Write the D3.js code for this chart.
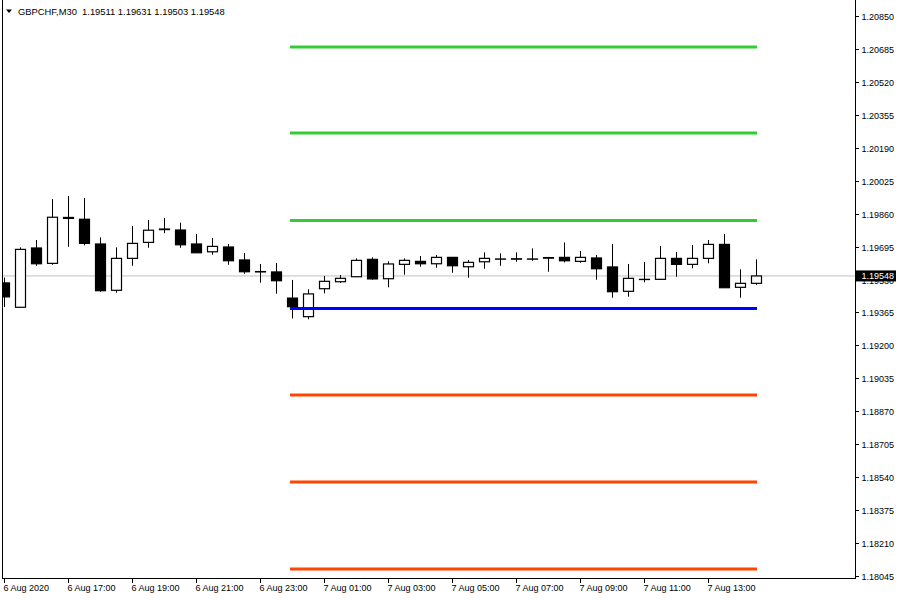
<!DOCTYPE html>
<html>
<head>
<meta charset="utf-8">
<script src="https://cdn.jsdelivr.net/npm/d3@7/dist/d3.min.js"></script>
<style>
  html, body { margin: 0; padding: 0; background: #fff; }
  svg { display: block; }
  text { font-family: "Liberation Sans", Arial, sans-serif; font-size: 9px; fill: #000; }
</style>
</head>
<body>
<svg id="chart" width="900" height="600"></svg>
<script>
// ---- Data (GBPCHF M30) ----
const times = [
  "6 Aug 15:00","6 Aug 15:30","6 Aug 16:00","6 Aug 16:30","6 Aug 17:00","6 Aug 17:30",
  "6 Aug 18:00","6 Aug 18:30","6 Aug 19:00","6 Aug 19:30","6 Aug 20:00","6 Aug 20:30",
  "6 Aug 21:00","6 Aug 21:30","6 Aug 22:00","6 Aug 22:30","6 Aug 23:00","6 Aug 23:30",
  "7 Aug 00:00","7 Aug 00:30","7 Aug 01:00","7 Aug 01:30","7 Aug 02:00","7 Aug 02:30",
  "7 Aug 03:00","7 Aug 03:30","7 Aug 04:00","7 Aug 04:30","7 Aug 05:00","7 Aug 05:30",
  "7 Aug 06:00","7 Aug 06:30","7 Aug 07:00","7 Aug 07:30","7 Aug 08:00","7 Aug 08:30",
  "7 Aug 09:00","7 Aug 09:30","7 Aug 10:00","7 Aug 10:30","7 Aug 11:00","7 Aug 11:30",
  "7 Aug 12:00","7 Aug 12:30","7 Aug 13:00","7 Aug 13:30","7 Aug 14:00","7 Aug 14:30"
];
const opens = [1.19513,1.19391,1.19688,1.19611,1.19841,1.19832,1.19708,1.19476,1.19636,1.19716,1.19783,1.19778,
  1.19708,1.19669,1.19693,1.19628,1.19570,1.19568,1.19437,1.19344,1.19484,1.19519,1.19544,1.19631,
  1.19534,1.19606,1.19621,1.19609,1.19641,1.19594,1.19619,1.19633,1.19634,1.19633,1.19640,1.19641,
  1.19621,1.19638,1.19593,1.19471,1.19531,1.19531,1.19636,1.19606,1.19636,1.19706,1.19491,1.19511];
const highs = [1.19540,1.19691,1.19728,1.19933,1.19948,1.19938,1.19741,1.19691,1.19798,1.19828,1.19838,1.19815,
  1.19758,1.19738,1.19708,1.19663,1.19608,1.19613,1.19528,1.19481,1.19548,1.19553,1.19636,1.19641,
  1.19621,1.19636,1.19648,1.19653,1.19643,1.19628,1.19666,1.19661,1.19666,1.19686,1.19643,1.19716,
  1.19673,1.19653,1.19708,1.19608,1.19618,1.19698,1.19668,1.19703,1.19728,1.19758,1.19581,1.19631];
const lows = [1.19392,1.19390,1.19599,1.19604,1.19694,1.19701,1.19469,1.19464,1.19599,1.19689,1.19762,1.19689,
  1.19663,1.19654,1.19604,1.19559,1.19514,1.19459,1.19335,1.19331,1.19461,1.19514,1.19543,1.19529,
  1.19491,1.19554,1.19594,1.19589,1.19564,1.19539,1.19584,1.19599,1.19619,1.19624,1.19569,1.19616,
  1.19614,1.19529,1.19439,1.19444,1.19516,1.19530,1.19544,1.19586,1.19611,1.19489,1.19439,1.19503];
const closes = [1.19443,1.19681,1.19609,1.19842,1.19836,1.19711,1.19474,1.19636,1.19711,1.19777,1.19780,1.19704,
  1.19664,1.19696,1.19624,1.19569,1.19568,1.19524,1.19394,1.19458,1.19521,1.19536,1.19626,1.19533,
  1.19608,1.19626,1.19609,1.19641,1.19599,1.19616,1.19636,1.19632,1.19632,1.19632,1.19637,1.19624,
  1.19641,1.19584,1.19469,1.19536,1.19530,1.19636,1.19606,1.19636,1.19706,1.19489,1.19511,1.19548];

// Daily pivot levels (start at 7 Aug 00:00)
const pivotNames  = ["R3","R2","R1","P","S1","S2","S3"];
const pivotValues = [1.20695,1.20264,1.19826,1.19385,1.18952,1.18516,1.18080];
const pivotColors = ["#32cd32","#32cd32","#32cd32","#0000ff","#ff4500","#ff4500","#ff4500"];
const pivotStart = "7 Aug 00:00";

const yTickLabels = ["1.20850","1.20685","1.20520","1.20355","1.20190","1.20025","1.19860","1.19695",
  "1.19530","1.19365","1.19200","1.19035","1.18870","1.18705","1.18540","1.18375","1.18210","1.18045"];
const xTickTimes  = ["6 Aug 15:00","6 Aug 17:00","6 Aug 19:00","6 Aug 21:00","6 Aug 23:00","7 Aug 01:00",
  "7 Aug 03:00","7 Aug 05:00","7 Aug 07:00","7 Aug 09:00","7 Aug 11:00","7 Aug 13:00"];
const xTickLabels = ["6 Aug 2020","6 Aug 17:00","6 Aug 19:00","6 Aug 21:00","6 Aug 23:00","7 Aug 01:00",
  "7 Aug 03:00","7 Aug 05:00","7 Aug 07:00","7 Aug 09:00","7 Aug 11:00","7 Aug 13:00"];

const symbolTitle = "GBPCHF,M30";

(function () {
  const lastPrice = closes[closes.length - 1];
  const L = 2, R = 855, T = 0, B = 578;
  const svg = d3.select("#chart");

  const x = d3.scalePoint().domain(times).range([3.5, 755.5]);
  const y = d3.scaleLinear().domain([1.18045, 1.20850]).range([576, 16]);

  svg.append("defs").append("clipPath").attr("id", "clip")
    .append("rect").attr("x", L + 0.5).attr("y", T).attr("width", R - L).attr("height", B - T);

  const plot = svg.append("g").attr("clip-path", "url(#clip)");

  // current price line
  plot.append("line")
    .attr("x1", L).attr("x2", R)
    .attr("y1", y(lastPrice)).attr("y2", y(lastPrice))
    .attr("stroke", "#c0c0c0").attr("stroke-width", 1);

  // candles
  const candles = times.map((t, i) => ({ t, o: opens[i], h: highs[i], l: lows[i], c: closes[i] }));
  const bw = 10;
  const g = plot.append("g").attr("class", "candles");
  g.selectAll("line.wick").data(candles).join("line")
    .attr("class", "wick")
    .attr("x1", d => Math.round(x(d.t)) + 0.5).attr("x2", d => Math.round(x(d.t)) + 0.5)
    .attr("y1", d => y(d.h)).attr("y2", d => y(d.l))
    .attr("stroke", "#000").attr("stroke-width", 1);
  g.selectAll("rect.body").data(candles).join("rect")
    .attr("class", "body")
    .attr("x", d => Math.round(x(d.t)) + 0.5 - bw / 2)
    .attr("width", bw)
    .attr("y", d => y(Math.max(d.o, d.c)))
    .attr("height", d => Math.max(0.01, Math.abs(y(d.o) - y(d.c))))
    .attr("fill", d => d.c > d.o ? "#fff" : "#000")
    .attr("stroke", "#000").attr("stroke-width", 1.2);

  // pivot lines
  plot.selectAll("line.pivot").data(pivotValues).join("line")
    .attr("class", "pivot")
    .attr("x1", x(pivotStart) - 1.5)
    .attr("x2", x(times[times.length - 1]) + 1.5)
    .attr("y1", d => y(d)).attr("y2", d => y(d))
    .attr("stroke", (d, i) => pivotColors[i]).attr("stroke-width", 3);

  // frame
  svg.append("line").attr("x1", L + 0.5).attr("x2", L + 0.5).attr("y1", T).attr("y2", B + 0.5).attr("stroke", "#000");
  svg.append("line").attr("x1", R + 0.5).attr("x2", R + 0.5).attr("y1", T).attr("y2", B + 0.5).attr("stroke", "#000");
  svg.append("line").attr("x1", L).attr("x2", R + 1).attr("y1", B + 0.5).attr("y2", B + 0.5).attr("stroke", "#000");

  // y axis ticks
  const yAxis = svg.append("g");
  yTickLabels.forEach(lbl => {
    const yy = Math.round(y(+lbl)) + 0.5;
    yAxis.append("line").attr("x1", R).attr("x2", R + 4).attr("y1", yy).attr("y2", yy).attr("stroke", "#000");
    yAxis.append("text").attr("x", 861.5).attr("y", yy + 3).text(lbl);
  });

  // x axis ticks
  const xAxis = svg.append("g");
  xTickTimes.forEach((t, i) => {
    const xx = Math.round(x(t)) + 0.5;
    xAxis.append("line").attr("x1", xx).attr("x2", xx).attr("y1", B).attr("y2", B + 5).attr("stroke", "#000");
    xAxis.append("text").attr("x", xx - 1).attr("y", 591).text(xTickLabels[i]);
  });

  // current price label (drawn over the hidden tick label, as in the terminal)
  const py = y(lastPrice);
  svg.append("rect").attr("x", R + 1).attr("y", py - 5.5).attr("width", 40).attr("height", 11).attr("fill", "#000");
  svg.append("text").attr("x", 861.5).attr("y", py + 3.5).style("fill", "#fff").text(lastPrice.toFixed(5));

  // title
  const n = times.length - 1;
  svg.append("path").attr("d", "M6,9.5 L12,9.5 L9,13 Z").attr("fill", "#000");
  svg.append("text").attr("x", 18).attr("y", 15).style("white-space", "pre").style("font-size", "9.4px")
    .text(symbolTitle + "  " + [opens[n], highs[n], lows[n], closes[n]].map(v => v.toFixed(5)).join(" "));
})();
</script>
</body>
</html>
